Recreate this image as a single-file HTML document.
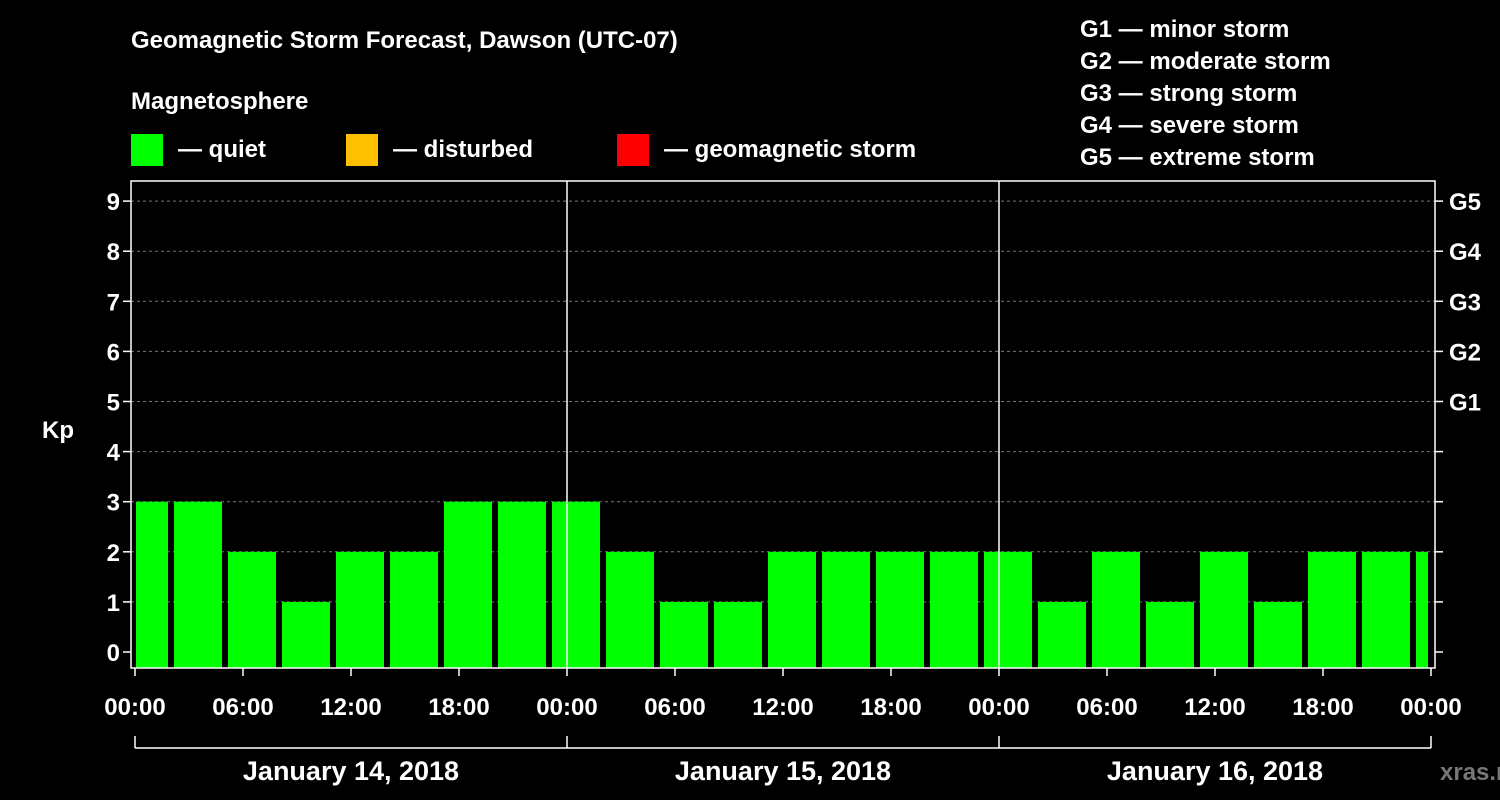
<!DOCTYPE html>
<html><head><meta charset="utf-8"><style>
body{margin:0;background:#000;}
svg{display:block;font-family:"Liberation Sans",sans-serif;font-weight:bold;}
</style></head><body>
<svg id="c" width="1500" height="800">
<rect width="1500" height="800" fill="#000"/>
<g fill="#fff" font-size="24">
<text x="131" y="48">Geomagnetic Storm Forecast, Dawson (UTC-07)</text>
<text x="131" y="109">Magnetosphere</text>
<rect x="131" y="134" width="32" height="32" fill="#00ff00"/>
<text x="178" y="157">— quiet</text>
<rect x="346" y="134" width="32" height="32" fill="#ffc000"/>
<text x="393" y="157">— disturbed</text>
<rect x="617" y="134" width="32" height="32" fill="#ff0000"/>
<text x="664" y="157">— geomagnetic storm</text>
<g>
<text x="1080" y="37">G1 — minor storm</text>
<text x="1080" y="69">G2 — moderate storm</text>
<text x="1080" y="101">G3 — strong storm</text>
<text x="1080" y="133">G4 — severe storm</text>
<text x="1080" y="165">G5 — extreme storm</text>
</g>
<text x="42" y="438">Kp</text>
</g>
<g id="plot"></g>
<text x="1440" y="780" fill="#777" font-size="24">xras.ru</text>
</svg>
<script>
const kpValues=[3,3,2,1,2,2,3,3,3,2,1,1,2,2,2,2,2,1,2,1,2,1,2,2,2];
const yTicks=[0,1,2,3,4,5,6,7,8,9];
const gLabels=["G1","G2","G3","G4","G5"];
const xTickLabels=["00:00","06:00","12:00","18:00","00:00","06:00","12:00","18:00","00:00","06:00","12:00","18:00","00:00"];
const dayLabels=["January 14, 2018","January 15, 2018","January 16, 2018"];
const NS="http://www.w3.org/2000/svg";
const g=document.getElementById('plot');
const L=131,R=1435,T=181,B=668,X0=135,DAY=432;
const y=v=>652-v*50.1;
const x=h=>X0+h*DAY/24;
function mk(t,a,p){const e=document.createElementNS(NS,t);for(const k in a)e.setAttribute(k,a[k]);(p||g).appendChild(e);return e;}
yTicks.forEach((v,i)=>{
 if(v>0){const l=mk('line',{x1:L,x2:R,y1:y(v),y2:y(v),stroke:'#777','stroke-dasharray':'3,3','stroke-width':1});
 
 }
 mk('line',{x1:L-8,x2:L,y1:y(v),y2:y(v),stroke:'#fff','stroke-width':1.5});
 mk('line',{x1:R,x2:R+8,y1:y(v),y2:y(v),stroke:'#fff','stroke-width':1.5});
 const t=mk('text',{x:120,y:y(v)+9,fill:'#fff','font-size':24,'text-anchor':'end'});t.textContent=v;
 
 
});
gLabels.forEach((s,i)=>{const t=mk('text',{x:1449,y:y(5+i)+9,fill:'#fff','font-size':24});t.textContent=s;
 
 });
kpValues.forEach((v,k)=>{
 const c=x(k*3)+9;let l=c-24,r=c+24;l=Math.max(l,136);r=Math.min(r,1428);
 const b=mk('rect',{x:l,y:y(v),width:r-l,height:B-y(v),fill:'#00ff00'});
 
 
});
mk('rect',{x:L,y:T,width:R-L,height:B-T,fill:'none',stroke:'#fff','stroke-width':1.5});
[1,2].forEach(d=>mk('line',{x1:x(d*24),x2:x(d*24),y1:T,y2:B,stroke:'#fff','stroke-width':1.5}));
xTickLabels.forEach((s,i)=>{
 mk('line',{x1:x(i*6),x2:x(i*6),y1:B,y2:B+8,stroke:'#fff','stroke-width':1.5});
 const t=mk('text',{x:x(i*6),y:715,fill:'#fff','font-size':24,'text-anchor':'middle'});t.textContent=s;
 
 
});
mk('line',{x1:x(0),x2:x(72),y1:748,y2:748,stroke:'#fff','stroke-width':1.5});
[0,1,2,3].forEach(d=>mk('line',{x1:x(d*24),x2:x(d*24),y1:736,y2:748,stroke:'#fff','stroke-width':1.5}));
dayLabels.forEach((s,i)=>{const t=mk('text',{x:x(i*24+12),y:780,fill:'#fff','font-size':27,'text-anchor':'middle'});t.textContent=s;
 
 });
</script>
</body></html>
